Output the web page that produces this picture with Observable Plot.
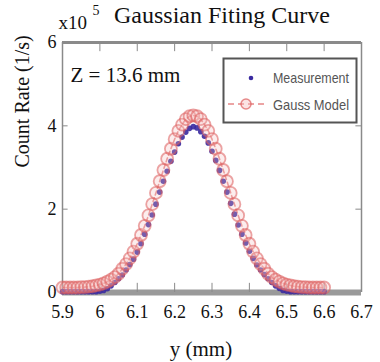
<!DOCTYPE html>
<html><head><meta charset="utf-8">
<script src="https://cdn.jsdelivr.net/npm/d3@7"></script>
<script src="https://cdn.jsdelivr.net/npm/@observablehq/plot@0.6"></script>
<style>body{margin:0;background:#fff}</style>
</head><body><div id="chart"></div>
<script>
const xTicks = [5.9, 6.0, 6.1, 6.2, 6.3, 6.4, 6.5, 6.6, 6.7];
const xTickLabels = ["5.9","6","6.1","6.2","6.3","6.4","6.5","6.6","6.7"];
const yTicks = [0, 2, 4, 6];
const yTickLabels = ["0","2","4","6"];
const positions = [5.90,5.91,5.92,5.93,5.94,5.95,5.96,5.97,5.98,5.99,
  6.00,6.01,6.02,6.03,6.04,6.05,6.06,6.07,6.08,6.09,
  6.10,6.11,6.12,6.13,6.14,6.15,6.16,6.17,6.18,6.19,
  6.20,6.21,6.22,6.23,6.24,6.25,6.26,6.27,6.28,6.29,
  6.30,6.31,6.32,6.33,6.34,6.35,6.36,6.37,6.38,6.39,
  6.40,6.41,6.42,6.43,6.44,6.45,6.46,6.47,6.48,6.49,
  6.50,6.51,6.52,6.53,6.54,6.55,6.56,6.57,6.58,6.59,6.60];
const measurement = [0.02,0.02,0.02,0.02,0.02,0.02,0.02,0.02,0.02,0.02,
  0.03,0.05,0.09,0.16,0.24,0.33,0.42,0.54,0.67,0.80,
  0.97,1.17,1.40,1.63,1.86,2.12,2.41,2.67,2.91,3.15,
  3.37,3.57,3.73,3.85,3.94,3.98,3.95,3.86,3.75,3.59,
  3.39,3.17,2.93,2.67,2.41,2.14,1.88,1.62,1.40,1.19,
  0.99,0.82,0.66,0.54,0.43,0.33,0.24,0.16,0.10,0.05,
  0.03,0.02,0.02,0.02,0.02,0.02,0.02,0.02,0.02,0.02,0.02];
const gaussModel = [0.12,0.12,0.12,0.12,0.12,0.13,0.13,0.14,0.15,0.17,
  0.19,0.22,0.26,0.31,0.37,0.45,0.57,0.68,0.82,0.98,
  1.17,1.38,1.60,1.85,2.12,2.39,2.67,2.94,3.21,3.45,
  3.68,3.88,4.03,4.16,4.23,4.25,4.23,4.16,4.03,3.88,
  3.68,3.45,3.21,2.94,2.67,2.39,2.12,1.85,1.60,1.38,
  1.17,0.98,0.82,0.68,0.57,0.45,0.37,0.31,0.26,0.22,
  0.19,0.17,0.15,0.14,0.13,0.13,0.12,0.12,0.12,0.12,0.12];
const seriesNames = ["Measurement", "Gauss Model"];
const title = "Gaussian Fiting Curve";
const xLabel = "y (mm)";
const yLabel = "Count Rate (1/s)";
const annotation = "Z = 13.6 mm";

const meas = positions.map((x, i) => ({x, y: measurement[i]}));
const model = positions.map((x, i) => ({x, y: gaussModel[i]}));
const xMin = xTicks[0], xMax = xTicks[xTicks.length - 1];
const yMin = yTicks[0], yMax = yTicks[yTicks.length - 1];
const serif = "Liberation Serif";
const txt = {fontFamily: serif, fill: "#111", lineAnchor: "middle"};

const chart = Plot.plot({
  width: 380, height: 362,
  marginLeft: 62, marginRight: 19, marginTop: 42, marginBottom: 70,
  x: {domain: [xMin, xMax], axis: null},
  y: {domain: [yMin, yMax], axis: null},
  style: {fontFamily: serif, fontSize: "18px", color: "#111", background: "#fff"},
  marks: [
    Plot.ruleY([yMin], {stroke: "#9a9a9a", strokeWidth: 6}),
    Plot.ruleY([yMax], {stroke: "#8a8a8a", strokeWidth: 3}),
    Plot.ruleX([xMin, xMax], {stroke: "#8a8a8a", strokeWidth: 1.5}),
    Plot.ruleX(xTicks.slice(1, -1), {x: d => d, y1: yMax, y2: yMax - 0.22, stroke: "#8a8a8a", strokeWidth: 1}),
    Plot.ruleX(xTicks.slice(1, -1), {x: d => d, y1: yMin, y2: yMin + 0.22, stroke: "#8a8a8a", strokeWidth: 1}),
    Plot.ruleY(yTicks.slice(1, -1), {y: d => d, x1: xMax, x2: xMax - 0.015, stroke: "#8a8a8a", strokeWidth: 1}),
    Plot.ruleY(yTicks.slice(1, -1), {y: d => d, x1: xMin, x2: xMin + 0.015, stroke: "#8a8a8a", strokeWidth: 1}),
    Plot.text(xTicks, {x: d => d, frameAnchor: "bottom", dy: 20, text: (d, i) => xTickLabels[i], fontSize: 18, ...txt}),
    Plot.text(yTicks, {y: d => d, frameAnchor: "left", dx: -6, textAnchor: "end", text: (d, i) => yTickLabels[i], fontSize: 18, ...txt}),
    Plot.line(model, {x: "x", y: "y", stroke: "#e06868", strokeWidth: 1.6, strokeDasharray: "4,3", strokeOpacity: 0.7}),
    Plot.dot(meas, {x: "x", y: "y", r: 2.8, fill: "#3a2aa0", stroke: "none", fillOpacity: 0.9}),
    Plot.dot(model, {x: "x", y: "y", r: 6, fill: "#f4b8b8", fillOpacity: 0.25, stroke: "#dd5c5c", strokeWidth: 1.8, strokeOpacity: 0.55}),
    Plot.text([title], {frameAnchor: "top", dx: 10, dy: -27, text: d => d, fontSize: 24, ...txt}),
    Plot.text(["x10"], {frameAnchor: "top-left", dx: -4, dy: -20, text: d => d, fontSize: 19, textAnchor: "start", ...txt}),
    Plot.text(["5"], {frameAnchor: "top-left", dx: 30, dy: -32, text: d => d, fontSize: 14, textAnchor: "start", ...txt}),
    Plot.text([annotation], {frameAnchor: "top-left", dx: 8, dy: 33, text: d => d, fontSize: 21, textAnchor: "start", ...txt}),
    Plot.text([xLabel], {frameAnchor: "bottom", dx: -11, dy: 57, text: d => d, fontSize: 21, ...txt}),
    Plot.text([yLabel], {frameAnchor: "left", dx: -40, rotate: -90, text: d => d, fontSize: 20, ...txt})
  ]
});
document.getElementById("chart").appendChild(chart);

// legend box
const svg = d3.select(chart);
const lg = svg.append("g").attr("font-family", "Liberation Sans Narrow, Liberation Sans, Arial, sans-serif");
lg.append("rect").attr("x", 223.5).attr("y", 58.5).attr("width", 133).attr("height", 64)
  .attr("fill", "#fff").attr("stroke", "#555").attr("stroke-width", 2);
lg.append("circle").attr("cx", 251).attr("cy", 78).attr("r", 2.3).attr("fill", "#3a2aa0");
lg.append("line").attr("x1", 228).attr("x2", 268).attr("y1", 104).attr("y2", 104)
  .attr("stroke", "#e06868").attr("stroke-width", 1.6).attr("stroke-dasharray", "6,4").attr("stroke-opacity", 0.8);
lg.append("circle").attr("cx", 246).attr("cy", 104).attr("r", 5).attr("fill", "#f4b8b8").attr("fill-opacity", 0.4)
  .attr("stroke", "#dd5c5c").attr("stroke-width", 1.5).attr("stroke-opacity", 0.7);
lg.selectAll("text.lbl").data(seriesNames).join("text")
  .attr("x", 273).attr("y", (d, i) => 83 + i * 27).attr("text-anchor", "start")
  .attr("font-size", 15).attr("fill", "#555")
  .attr("textLength", 76).attr("lengthAdjust", "spacingAndGlyphs")
  .text(d => d);
</script>
</body></html>
